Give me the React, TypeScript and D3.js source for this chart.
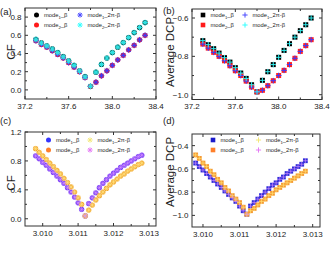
import React from 'react';
import * as d3 from 'd3';

const FONT = "'Liberation Sans', Arial, Helvetica, sans-serif";

// ---- Data panels (a)/(b)
const xAB = [37.30, 37.35, 37.40, 37.45, 37.50, 37.55, 37.60, 37.65, 37.70, 37.75, 37.80,
  37.85, 37.90, 37.95, 38.00, 38.05, 38.10, 38.15, 38.20, 38.25, 38.30];
const cfMode1 = [0.556, 0.516, 0.484, 0.45, 0.41, 0.365, 0.32, 0.27, 0.21, 0.145, 0.04,
  0.195, 0.28, 0.35, 0.41, 0.47, 0.52, 0.575, 0.63, 0.685, 0.74];
const cfMode2 = [0.54, 0.50, 0.47, 0.43, 0.39, 0.35, 0.30, 0.25, 0.20, 0.135, 0.04,
  0.085, 0.155, 0.21, 0.27, 0.33, 0.38, 0.44, 0.49, 0.55, 0.60];
const dcpMode1 = [-0.718, -0.739, -0.76, -0.783, -0.807, -0.83, -0.859, -0.887, -0.915, -0.948, -0.985,
  -0.925, -0.88, -0.843, -0.805, -0.769, -0.734, -0.70, -0.666, -0.635, -0.60];
const dcpMode2 = [-0.736, -0.757, -0.779, -0.80, -0.823, -0.849, -0.875, -0.90, -0.929, -0.96, -0.985,
  -0.977, -0.953, -0.927, -0.90, -0.873, -0.843, -0.81, -0.774, -0.744, -0.713];

// ---- Data panels (c)/(d)
const xCD = [3.0098, 3.0099, 3.0100, 3.0101, 3.0102, 3.0103, 3.0104, 3.0105, 3.0106, 3.0107,
  3.0108, 3.0109, 3.0110, 3.0111, 3.0112, 3.0113, 3.0114, 3.0115, 3.0116, 3.0117, 3.0118,
  3.0119, 3.0120, 3.0121, 3.0122, 3.0123, 3.0124, 3.0125, 3.0126, 3.0127, 3.0128];
const cfC1 = [0.87, 0.83, 0.78, 0.74, 0.69, 0.64, 0.59, 0.54, 0.49, 0.43, 0.37, 0.30, 0.22, 0.13,
  0.04, 0.21, 0.29, 0.36, 0.43, 0.49, 0.54, 0.59, 0.63, 0.67, 0.71, 0.74, 0.77, 0.80, 0.83, 0.86, 0.88];
const cfC2 = [0.97, 0.92, 0.87, 0.82, 0.77, 0.72, 0.67, 0.62, 0.56, 0.50, 0.44, 0.37, 0.29, 0.20,
  0.04, 0.12, 0.19, 0.26, 0.32, 0.37, 0.42, 0.47, 0.51, 0.55, 0.59, 0.62, 0.66, 0.69, 0.72, 0.75, 0.77];
const dcpD1 = [-0.55, -0.58, -0.61, -0.64, -0.67, -0.70, -0.73, -0.76, -0.79, -0.82, -0.85, -0.88, -0.92, -0.96,
  -0.99, -0.92, -0.89, -0.86, -0.83, -0.80, -0.77, -0.74, -0.72, -0.69, -0.67, -0.64, -0.62, -0.60, -0.58, -0.56, -0.53];
const dcpD2 = [-0.48, -0.51, -0.55, -0.58, -0.62, -0.65, -0.69, -0.72, -0.76, -0.79, -0.83, -0.86, -0.89, -0.93,
  -0.99, -0.96, -0.94, -0.91, -0.88, -0.86, -0.83, -0.81, -0.78, -0.76, -0.74, -0.72, -0.70, -0.68, -0.66, -0.64, -0.62];

// ---- Ticks
const xTicksAB = [37.2, 37.6, 38.0, 38.4];
const xMinorAB = [37.4, 37.8, 38.2];
const yTicksA = [0.0, 0.2, 0.4, 0.6, 0.8];
const yMinorA = [0.1, 0.3, 0.5, 0.7];
const yTicksB = [-1.0, -0.8, -0.6];
const yMinorB = [-0.9, -0.7];
const xTicksCD = [3.010, 3.011, 3.012, 3.013];
const xMinorCD = [3.0105, 3.0115, 3.0125];
const yTicksC = [0.0, 0.4, 0.8, 1.2];
const yMinorC = [0.2, 0.6, 1.0];
const yTicksD = [-1.0, -0.8, -0.6, -0.4];
const yMinorD = [-0.9, -0.7, -0.5];

type Kind = 'circle' | 'square' | 'asterisk' | 'plus';
type Mk = { kind: Kind; color: string; size: number; width?: number; opacity?: number };

function Marker({ cx, cy, m }: { cx: number; cy: number; m: Mk }) {
  const s = m.size;
  if (m.kind === 'circle') return <circle cx={cx} cy={cy} r={s} fill={m.color} opacity={m.opacity ?? 1} />;
  if (m.kind === 'square') return <rect x={cx - s} y={cy - s} width={2 * s} height={2 * s} fill={m.color} opacity={m.opacity ?? 1} />;
  const d = s * 0.72;
  const p = m.kind === 'plus'
    ? `M${cx - s},${cy}H${cx + s}M${cx},${cy - s}V${cy + s}`
    : `M${cx - s},${cy}H${cx + s}M${cx},${cy - s}V${cy + s}M${cx - d},${cy - d}L${cx + d},${cy + d}M${cx - d},${cy + d}L${cx + d},${cy - d}`;
  return <path d={p} stroke={m.color} strokeWidth={m.width ?? 1} fill="none" opacity={m.opacity ?? 1} />;
}

type Series = { xs: number[]; ys: number[]; m: Mk };
type LegendItem = { x: number; y: number; m: Mk; sub: string; rest: string };

type PanelProps = {
  left: number; right: number; top: number; bottom: number;
  xDomain: [number, number]; yDomain: [number, number];
  xTicks: number[]; xMinor: number[]; yTicks: number[]; yMinor: number[];
  xFmt: (v: number) => string; yFmt: (v: number) => string;
  ylabel: string; ylabelX: number; ylabelY: number;
  label: string; labelX: number; labelY: number;
  series: Series[]; legend: LegendItem[];
};

function Panel(p: PanelProps) {
  const x = d3.scaleLinear().domain(p.xDomain).range([p.left, p.right]);
  const y = d3.scaleLinear().domain(p.yDomain).range([p.bottom, p.top]);
  const axisColor = '#333';
  const TL = 3, TM = 2;
  const TF = 8;
  return (
    <g>
      {p.series.map((s, i) => (
        <g key={i}>
          {s.xs.map((xv, j) => <Marker key={j} cx={x(xv)} cy={y(s.ys[j])} m={s.m} />)}
        </g>
      ))}
      <rect x={p.left} y={p.top} width={p.right - p.left} height={p.bottom - p.top} fill="none" stroke={axisColor} strokeWidth={1} />
      {p.xTicks.map((t) => (
        <g key={'xt' + t}>
          <line x1={x(t)} x2={x(t)} y1={p.bottom} y2={p.bottom - TL} stroke={axisColor} />
          <line x1={x(t)} x2={x(t)} y1={p.top} y2={p.top + TL} stroke={axisColor} />
          <text x={x(t)} y={p.bottom + 9.5} fontSize={TF} textAnchor="middle" fill="#222" fontFamily={FONT}>{p.xFmt(t)}</text>
        </g>
      ))}
      {p.xMinor.map((t) => (
        <g key={'xm' + t}>
          <line x1={x(t)} x2={x(t)} y1={p.bottom} y2={p.bottom - TM} stroke={axisColor} />
          <line x1={x(t)} x2={x(t)} y1={p.top} y2={p.top + TM} stroke={axisColor} />
        </g>
      ))}
      {p.yTicks.map((t) => (
        <g key={'yt' + t}>
          <line x1={p.left} x2={p.left + TL} y1={y(t)} y2={y(t)} stroke={axisColor} />
          <line x1={p.right} x2={p.right - TL} y1={y(t)} y2={y(t)} stroke={axisColor} />
          <text x={p.left - 3.5} y={y(t) + 2.9} fontSize={TF} textAnchor="end" fill="#222" fontFamily={FONT}>{p.yFmt(t)}</text>
        </g>
      ))}
      {p.yMinor.map((t) => (
        <g key={'ym' + t}>
          <line x1={p.left} x2={p.left + TM} y1={y(t)} y2={y(t)} stroke={axisColor} />
          <line x1={p.right} x2={p.right - TM} y1={y(t)} y2={y(t)} stroke={axisColor} />
        </g>
      ))}
      <text transform={`translate(${p.ylabelX},${p.ylabelY}) rotate(-90)`} fontSize={11.5} textAnchor="middle" fill="#222" fontFamily={FONT}>{p.ylabel}</text>
      <text x={p.labelX} y={p.labelY} fontSize={9.5} fill="#222" fontFamily={FONT}>{p.label}</text>
      {p.legend.map((l, i) => (
        <g key={'lg' + i}>
          <Marker cx={l.x} cy={l.y} m={l.m} />
          <text x={l.x + 7.5} y={l.y + 2} fontSize={5.8} fill="#222" fontFamily={FONT}>
            mode<tspan fontSize={4.2} dy={1.5}>{l.sub}</tspan><tspan dy={-1.5}>{l.rest}</tspan>
          </text>
        </g>
      ))}
    </g>
  );
}

const f1 = (v: number) => d3.format('.1f')(v);
const f3 = (v: number) => d3.format('.3f')(v);

export default function App() {
  const blackC: Mk = { kind: 'circle', color: '#000', size: 2.6 };
  const redC: Mk = { kind: 'circle', color: '#ff1a1a', size: 2.6 };
  const blueA: Mk = { kind: 'asterisk', color: '#3b3bff', size: 2.9, width: 1 };
  const cyanA: Mk = { kind: 'asterisk', color: '#2fe0e0', size: 2.9, width: 1.1 };

  const blackS: Mk = { kind: 'square', color: '#000', size: 2.5 };
  const redS: Mk = { kind: 'square', color: '#ff2020', size: 2.5 };
  const blueP: Mk = { kind: 'plus', color: '#3b3bff', size: 2.8, width: 1 };
  const cyanP: Mk = { kind: 'plus', color: '#33eeee', size: 2.8, width: 1 };

  const purpC: Mk = { kind: 'circle', color: '#6f3df5', size: 2.6 };
  const orC: Mk = { kind: 'circle', color: '#f0a030', size: 2.6 };
  const yelA: Mk = { kind: 'asterisk', color: '#ffe27a', size: 2.9, width: 0.9, opacity: 0.8 };
  const magA: Mk = { kind: 'asterisk', color: '#d58cff', size: 2.9, width: 0.9, opacity: 0.7 };

  const blueS: Mk = { kind: 'square', color: '#3030d8', size: 2.4 };
  const orS: Mk = { kind: 'square', color: '#f59a35', size: 2.4 };
  const yelP: Mk = { kind: 'plus', color: '#ffe070', size: 2.7, width: 0.9, opacity: 0.8 };
  const magP: Mk = { kind: 'plus', color: '#d68cff', size: 2.7, width: 0.9, opacity: 0.7 };

  return (
    <svg width={331} height={263} style={{ position: 'absolute', left: 0, top: 0, background: '#fff' }}>
      <Panel
        left={25} right={156} top={8} bottom={99}
        xDomain={[37.2, 38.4]} yDomain={[-0.1, 0.9]}
        xTicks={xTicksAB} xMinor={xMinorAB} yTicks={yTicksA} yMinor={yMinorA}
        xFmt={f1} yFmt={f1}
        ylabel="CF" ylabelX={15} ylabelY={52}
        label="(a)" labelX={0} labelY={15}
        series={[
          { xs: xAB, ys: cfMode1, m: blackC },
          { xs: xAB, ys: cfMode2, m: redC },
          { xs: xAB, ys: cfMode2, m: blueA },
          { xs: xAB, ys: cfMode1, m: cyanA },
        ]}
        legend={[
          { x: 36.5, y: 15, m: { kind: 'circle', color: '#000', size: 2.5 }, sub: '1', rest: '_β' },
          { x: 36.5, y: 25, m: { kind: 'circle', color: '#ff1a1a', size: 2.5 }, sub: '2', rest: '_β' },
          { x: 80, y: 15, m: { kind: 'asterisk', color: '#4b4bff', size: 2.6, width: 1 }, sub: '1', rest: '_2π-β' },
          { x: 80, y: 25, m: { kind: 'asterisk', color: '#33ffff', size: 2.6, width: 1 }, sub: '2', rest: '_2π-β' },
        ]}
      />
      <Panel
        left={192} right={322} top={9} bottom={99.5}
        xDomain={[37.2, 38.4]} yDomain={[-1.025, -0.553]}
        xTicks={xTicksAB} xMinor={xMinorAB} yTicks={yTicksB} yMinor={yMinorB}
        xFmt={f1} yFmt={f1}
        ylabel="Average DCP" ylabelX={174} ylabelY={52}
        label="(b)" labelX={163} labelY={14}
        series={[
          { xs: xAB, ys: dcpMode1, m: blackS },
          { xs: xAB, ys: dcpMode2, m: redS },
          { xs: xAB, ys: dcpMode2, m: blueP },
          { xs: xAB, ys: dcpMode1, m: cyanP },
        ]}
        legend={[
          { x: 203, y: 15, m: { kind: 'square', color: '#000', size: 2.3 }, sub: '1', rest: '_β' },
          { x: 203, y: 25, m: { kind: 'square', color: '#ff1a1a', size: 2.3 }, sub: '2', rest: '_β' },
          { x: 245, y: 15, m: { kind: 'plus', color: '#4b4bff', size: 2.6, width: 1 }, sub: '1', rest: '_2π-β' },
          { x: 245, y: 25, m: { kind: 'plus', color: '#33ffff', size: 2.6, width: 1 }, sub: '2', rest: '_2π-β' },
        ]}
      />
      <Panel
        left={25} right={156} top={132} bottom={226}
        xDomain={[3.0095, 3.0132]} yDomain={[-0.1, 1.2]}
        xTicks={xTicksCD} xMinor={xMinorCD} yTicks={yTicksC} yMinor={yMinorC}
        xFmt={f3} yFmt={f1}
        ylabel="CF" ylabelX={15} ylabelY={183}
        label="(c)" labelX={0} labelY={124}
        series={[
          { xs: xCD, ys: cfC1, m: purpC },
          { xs: xCD, ys: cfC2, m: orC },
          { xs: xCD, ys: cfC2, m: yelA },
          { xs: xCD, ys: cfC1, m: magA },
        ]}
        legend={[
          { x: 48.5, y: 140, m: { kind: 'circle', color: '#3535ff', size: 2.5 }, sub: '1', rest: '_β' },
          { x: 48.5, y: 150, m: { kind: 'circle', color: '#ff7f2a', size: 2.5 }, sub: '2', rest: '_β' },
          { x: 90, y: 140, m: { kind: 'asterisk', color: '#f4e87a', size: 2.6, width: 1 }, sub: '1', rest: '_2π-β' },
          { x: 90, y: 150, m: { kind: 'asterisk', color: '#e57cf5', size: 2.6, width: 1 }, sub: '2', rest: '_2π-β' },
        ]}
      />
      <Panel
        left={192} right={320} top={134} bottom={227}
        xDomain={[3.0097, 3.0132]} yDomain={[-1.1, -0.3]}
        xTicks={xTicksCD} xMinor={xMinorCD} yTicks={yTicksD} yMinor={yMinorD}
        xFmt={f3} yFmt={f1}
        ylabel="Average DCP" ylabelX={174} ylabelY={172}
        label="(d)" labelX={163} labelY={124}
        series={[
          { xs: xCD, ys: dcpD1, m: blueS },
          { xs: xCD, ys: dcpD2, m: orS },
          { xs: xCD, ys: dcpD2, m: yelP },
          { xs: xCD, ys: dcpD1, m: magP },
        ]}
        legend={[
          { x: 213, y: 140, m: { kind: 'square', color: '#1a1acc', size: 2.3 }, sub: '1', rest: '_β' },
          { x: 213, y: 150, m: { kind: 'square', color: '#ff7f2a', size: 2.3 }, sub: '2', rest: '_β' },
          { x: 258.5, y: 140, m: { kind: 'plus', color: '#f4e87a', size: 2.6, width: 1 }, sub: '1', rest: '_2π-β' },
          { x: 258.5, y: 150, m: { kind: 'plus', color: '#e57cf5', size: 2.6, width: 1 }, sub: '2', rest: '_2π-β' },
        ]}
      />
    </svg>
  );
}
